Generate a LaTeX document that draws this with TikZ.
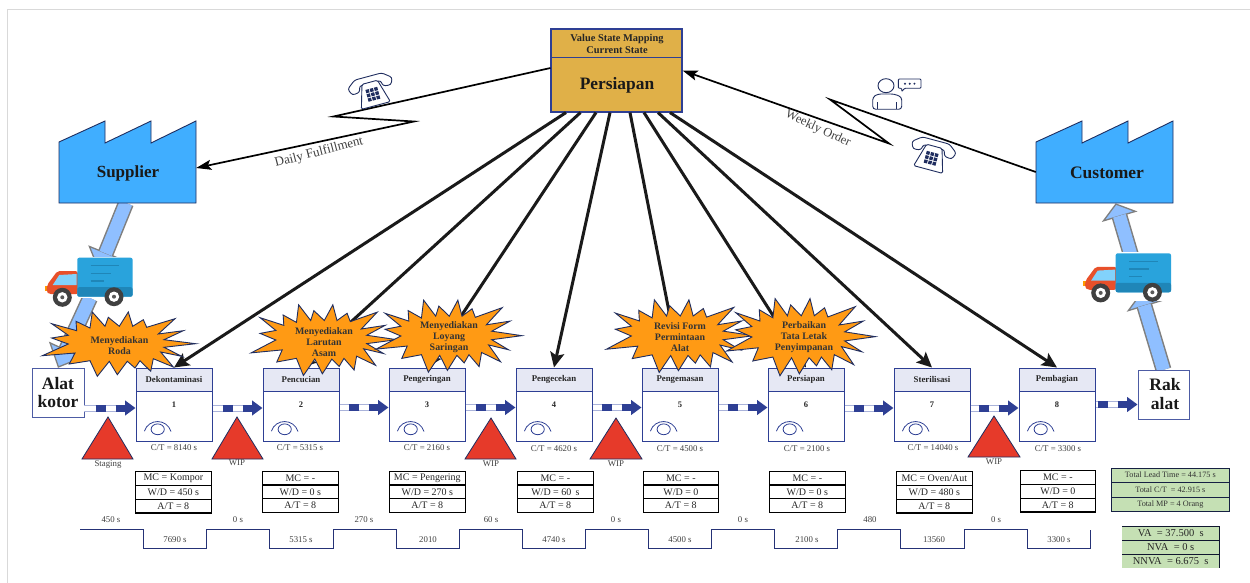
\documentclass[tikz,border=0pt]{standalone}
\usepackage{fontspec}
\setmainfont{Liberation Serif}
\usetikzlibrary{calc,arrows.meta}
\definecolor{navy}{HTML}{2E3F94}
\definecolor{inkd}{HTML}{1F2D5F}
\definecolor{lineblk}{HTML}{1A1A1A}
\definecolor{hdr}{HTML}{E6E8F4}
\definecolor{gold}{HTML}{E0B048}
\definecolor{factory}{HTML}{40AEFF}
\definecolor{fatblue}{HTML}{8FBFFF}
\definecolor{fatgray}{HTML}{7F7F7F}
\definecolor{burstc}{HTML}{FF9A14}
\definecolor{tri}{HTML}{E63A2A}
\definecolor{greenc}{HTML}{C5E0B4}
\definecolor{txtg}{HTML}{404040}
\definecolor{softb}{HTML}{AAB3DA}
\definecolor{truckred}{HTML}{E8502A}
\definecolor{truckwin}{HTML}{82D2FB}
\definecolor{truckbox}{HTML}{29A3DC}
\definecolor{truckdark}{HTML}{1F86B8}
\newcommand{\fs}[1]{\fontsize{#1}{#1}\selectfont}
\tikzset{
  procbox/.style={draw=navy,line width=1pt,fill=white,minimum width=76pt,minimum height=73pt,inner sep=0pt},
  hdrbox/.style={draw=navy,line width=1pt,fill=hdr,minimum width=76pt,minimum height=23pt,inner sep=0pt,font=\fs{8.8}\bfseries,text=black!85},
  numtxt/.style={font=\fs{8.5}\bfseries,text=black!85,inner sep=0pt},
  smalltxt/.style={font=\fs{8.8},text=txtg,inner sep=0pt},
  infobox/.style={draw=black,line width=1.2pt,fill=white,minimum width=75.5pt,minimum height=13.8pt,inner sep=0pt,font=\fs{10},text=black!85},
  greenA/.style={draw=inkd!70!black,line width=.7pt,fill=greenc,minimum width=118pt,minimum height=14.5pt,inner sep=0pt,font=\fs{8.2},text=black!80},
  greenB/.style={fill=greenc,minimum width=97pt,minimum height=14pt,inner sep=0pt,font=\fs{10.5},text=black!85},
  triwip/.style={draw=inkd,line width=.8pt,fill=tri},
  bursts/.style={draw=inkd,line width=.9pt,fill=burstc,line join=miter},
  bursttxt/.style={align=center,font=\fs{9.9}\bfseries,text=black!80,inner sep=0pt},
  factorys/.style={draw=inkd,line width=.9pt,fill=factory,line join=miter},
  bigbox/.style={draw=navy!85,line width=.9pt,fill=white,inner sep=0pt,align=center},
  holder/.style={inner sep=0pt},
  fan/.style={draw=lineblk,line width=3pt,-{Stealth[length=15pt,width=14pt,inset=3pt]}},
  zig/.style={draw=black,line width=1.7pt,-{Stealth[length=15pt,width=10pt,inset=3pt]},line join=miter},
  eyes/.style={draw=navy,line width=.8pt},
  steps/.style={draw=navy!80!black,line width=.9pt},
  pics/truck/.style={code={
    \fill[white] (-33,-1) rectangle (56,40);
    \fill[orange!80!yellow] (-32.5,28) rectangle (-29,33);
    \fill[truckred,rounded corners=2pt] (0.5,13.5) -- (-20,13.5) -- (-30,27) -- (-31,34) -- (-28,36.5) -- (0.5,36.5) -- cycle;
    \fill[truckwin] (-24.6,27.3) -- (-18,17.3) -- (-0.6,16.3) -- (-0.6,27.3) -- cycle;
    \fill[truckbox,rounded corners=2pt] (0,0) rectangle (55.3,39);
    \fill[truckdark,rounded corners=2pt] (0,29.5) rectangle (55.3,39);
    \draw[truckdark,line width=1.3pt] (13.4,8) -- (42,8) (13.4,15.6) -- (33.7,15.6) (13.4,23.3) -- (26.7,23.3);
    \foreach \wx/\wy in {-15/39.6,36.7/39}{
      \fill[black!75] (\wx,\wy) circle (9.5pt);
      \fill[white] (\wx,\wy) circle (5.2pt);
      \fill[black!65] (\wx,\wy) circle (2pt);
    }
  }},
  pics/phone/.style={code={
    \draw[draw=inkd,line width=.9pt,fill=white,rounded corners=2.5pt] (-20,-1) -- (-23,-8) -- (-14,-15) -- (14,-15) -- (23,-8) -- (20,-1) -- (12,-2) -- (11,-8) -- (-11,-8) -- (-12,-2) -- cycle;
    \draw[draw=inkd,line width=.9pt,fill=white,rounded corners=1.5pt] (-8,-9) -- (-15,15) -- (15,15) -- (8,-9) -- cycle;
    \foreach \kx in {-4.4,0,4.4}\foreach \ky in {-1,3.4,7.8}{\fill[inkd] (\kx-1.7,\ky-1.7) rectangle (\kx+1.7,\ky+1.7);}
  }},
  pics/eye/.style={code={
    \draw[eyes] (-13.3,1.8) .. controls (-9,-11) and (9,-11) .. (13.3,2.2);
    \draw[eyes] (0,0) ellipse (6.6pt and 5.4pt);
  }}
}
\newcommand{\procn}[4]{%
  \node[procbox] (box#1) at (#2+38,404.5) {};
  \node[hdrbox] (hd#1) at (#2+38,379.5) {#3};
  \node[numtxt] (no#1) at (#2+38,405) {#4};
  \path (#2+21.7,429.3) pic {eye};
}
\newcommand{\infot}[6]{%
  \node[infobox,anchor=north west] (ia#1) at (#2,#3) {#4};
  \node[infobox,anchor=north west] (ib#1) at (#2,#3+13.8) {#5};
  \node[infobox,anchor=north west] (ic#1) at (#2,#3+27.6) {#6};
}
\newcommand{\pusharrow}[2]{%
  \draw[softb,line width=7pt] (#1) -- ($(#2)!20pt!(#1)$);
  \draw[white,line width=5pt] (#1) -- ($(#2)!20pt!(#1)$);
  \draw[navy,line width=7pt] ($(#2)!40pt!(#1)$) -- ($(#2)!30pt!(#1)$);
  \draw[navy,line width=7pt,-{Triangle[length=10.5pt,width=14.5pt]}] ($(#2)!20pt!(#1)$) -- (#2);
}
\newcommand{\fatarrow}[5]{%
  \draw[fatgray,line width=#5pt+3pt,-{Triangle[length=#3pt,width=#4pt,fill=fatblue,color=fatgray,line width=1.3pt]}] (#1) -- (#2);
  \draw[fatblue,line width=#5pt] (#1) -- ($(#2)!#3pt-1pt!(#1)$);
}
\newcommand{\burst}[5]{%
  \begin{scope}[shift={(#2,#3)},xscale=#4,yscale=#5]
  \path[bursts] (-26.7,-32) -- (-14,-17.7) -- (-10.7,-26.7) -- (0.3,-17.7) -- (9.3,-32) -- (13.7,-17.7) -- (24.3,-24.3) -- (27.7,-16.7) -- (56,-25.3) -- (39.3,-10) -- (64.3,-13.3) -- (45,-4.3) -- (76.7,-0.3) -- (45,3.3) -- (62.7,12.3) -- (41.7,8) -- (54.3,23) -- (34.3,14.7) -- (31.7,27.3) -- (21,16.7) -- (16,24) -- (8.3,17.3) -- (-1.7,30.7) -- (-9.7,17.3) -- (-21.7,32.3) -- (-29,16.7) -- (-49.7,20) -- (-44,9) -- (-76.7,11.7) -- (-50.7,0) -- (-67.3,-6) -- (-50.7,-8.7) -- (-67.3,-20.3) -- (-42.3,-13.3) -- (-43,-22.7) -- (-29,-16) -- cycle;
  \end{scope}
}
\begin{document}
\begin{tikzpicture}[x=1pt,y=-1pt]
\useasboundingbox (0,0) rectangle (1250,583);
\fill[white] (0,0) rectangle (1250,583);
\draw[black!15,line width=1pt] (7,583) -- (7,10) -- (1250,10);

\node[minimum width=137pt,minimum height=82pt,holder] (supplier) at (127.5,162) {};
\node[minimum width=137pt,minimum height=82pt,holder] (customer) at (1104.5,162) {};
\node[minimum width=52pt,minimum height=49pt,holder] (alat) at (58,392.5) {};
\node[minimum width=51pt,minimum height=49pt,holder] (rak) at (1163.5,394.5) {};

\coordinate (supA) at (126,203);
\coordinate (truckA) at (98.5,271);
\coordinate (truckB) at (90,298);
\coordinate (custC) at (1115.7,203.3);
\coordinate (truckC) at (1133,262);
\coordinate (truckD) at (1140.5,293);
\fatarrow{supA}{truckA}{20}{38}{13}
\fatarrow{truckB}{alat.north}{20}{38}{13}
\fatarrow{truckC}{custC}{14}{37}{13}
\fatarrow{rak.north}{truckD}{14}{37}{13}
\fill[white] (1084,290) rectangle (1172,301);
\path (77.3,257.7) pic {truck};
\path (1115.7,253.3) pic {truck};

\draw[factorys] (59,203) -- (59,142) -- (105,121) -- (105,143) -- (151,121) -- (151,143) -- (196,121) -- (196,203) -- cycle;
\draw[factorys] (1036,203) -- (1036,142) -- (1082,121) -- (1082,143) -- (1128,121) -- (1128,143) -- (1173,121) -- (1173,203) -- cycle;
\node[font=\fs{17}\bfseries,text=black!90,inner sep=0pt] (suptxt) at (128,173) {Supplier};
\node[font=\fs{17.5}\bfseries,text=black!90,inner sep=0pt] (custxt) at (1107,173) {Customer};

\node[bigbox,minimum width=52pt,minimum height=49pt] (alatb) at (58,392.5) {};
\node[bigbox,minimum width=51pt,minimum height=49pt] (rakb) at (1163.5,394.5) {};
\node[font=\fs{17.5}\bfseries,text=black!90,inner sep=0pt] (alat1) at (58,384) {Alat};
\node[font=\fs{17.5}\bfseries,text=black!90,inner sep=0pt] (alat2) at (58,402) {kotor};
\node[font=\fs{17.5}\bfseries,text=black!90,inner sep=0pt] (rak1) at (1165,385) {Rak};
\node[font=\fs{17.5}\bfseries,text=black!90,inner sep=0pt] (rak2) at (1165,404) {alat};

\node[draw=navy,line width=1.1pt,fill=gold,minimum width=131pt,minimum height=83pt,inner sep=0pt] (persiapan) at (616.5,70.5) {};
\draw[navy,line width=1.1pt] ([yshift=-29pt]persiapan.north west) -- ([yshift=-29pt]persiapan.north east);
\node[font=\fs{10.4}\bfseries,text=black!85,inner sep=0pt] (vsm1) at (617,39) {Value State Mapping};
\node[font=\fs{10.4}\bfseries,text=black!85,inner sep=0pt] (vsm2) at (617,50) {Current State};
\node[font=\fs{17.4}\bfseries,text=black!90,inner sep=0pt] (pers) at (617,85) {Persiapan};

\procn{1}{136}{Dekontaminasi}{1}
\procn{2}{263}{Pencucian}{2}
\procn{3}{389}{Pengeringan}{3}
\procn{4}{516}{Pengecekan}{4}
\procn{5}{642}{Pengemasan}{5}
\procn{6}{768}{Persiapan}{6}
\procn{7}{894}{Sterilisasi}{7}
\procn{8}{1019}{Pembagian}{8}

\pusharrow{[yshift=-3.5pt]alatb.east |- box1.east}{[yshift=-3.5pt]box1.west}
\pusharrow{[yshift=-3.5pt]box1.east}{[yshift=-3.5pt]box2.west}
\pusharrow{[yshift=-3pt]box2.east}{[yshift=-3pt]box3.west}
\pusharrow{[yshift=-3pt]box3.east}{[yshift=-3pt]box4.west}
\pusharrow{[yshift=-3pt]box4.east}{[yshift=-3pt]box5.west}
\pusharrow{[yshift=-3pt]box5.east}{[yshift=-3pt]box6.west}
\pusharrow{[yshift=-3.5pt]box6.east}{[yshift=-3.5pt]box7.west}
\pusharrow{[yshift=-3.5pt]box7.east}{[yshift=-3.5pt]box8.west}
\pusharrow{box8.east}{rakb.west |- box8.east}

\draw[triwip] (108,417) -- (133,459) -- (82,459) -- cycle;
\draw[triwip] (237,417) -- (263,459) -- (212,459) -- cycle;
\draw[triwip] (491,418) -- (516,459) -- (465,459) -- cycle;
\draw[triwip] (616,418) -- (642,459) -- (590,459) -- cycle;
\draw[triwip] (994,416) -- (1020,457) -- (968,457) -- cycle;
\node[smalltxt] (lbS) at (108,465) {Staging};
\node[smalltxt] (lbW1) at (237,463) {WIP};
\node[smalltxt] (lbW2) at (491,464) {WIP};
\node[smalltxt] (lbW3) at (616,464) {WIP};
\node[smalltxt] (lbW4) at (994,462) {WIP};

\node[smalltxt] (ct1) at (174,448) {C/T = 8140 s};
\node[smalltxt] (ct2) at (300,448) {C/T = 5315 s};
\node[smalltxt] (ct3) at (427,448) {C/T = 2160 s};
\node[smalltxt] (ct4) at (554,449) {C/T = 4620 s};
\node[smalltxt] (ct5) at (680,449) {C/T = 4500 s};
\node[smalltxt] (ct6) at (807,449) {C/T = 2100 s};
\node[smalltxt] (ct7) at (933,448) {C/T = 14040 s};
\node[smalltxt] (ct8) at (1058,449) {C/T = 3300 s};

\infot{1}{135}{471}{MC = Kompor}{W/D = 450 s}{A/T = 8}
\infot{2}{262}{470.5}{MC = -}{W/D = 0 s}{A/T = 8}
\infot{3}{389}{470.5}{MC = Pengering}{W/D = 270 s}{A/T = 8}
\infot{4}{517}{470.5}{MC = -}{W/D = 60 \,s}{A/T = 8}
\infot{5}{642.5}{470.5}{MC = -}{W/D = 0}{A/T = 8}
\infot{6}{769}{470.5}{MC = -}{W/D = 0 s}{A/T = 8}
\infot{7}{896}{471}{MC = Oven/Aut}{W/D = 480 s}{A/T = 8}
\infot{8}{1019.5}{470}{MC = -}{W/D = 0}{A/T = 8}

\draw[steps] (80,529) -- (143,529) -- (143,548) -- (206,548) -- (206,529) -- (269,529) -- (269,548) -- (333,548) -- (333,529) -- (396,529) -- (396,548) -- (459,548) -- (459,529) -- (522,529) -- (522,548) -- (585,548) -- (585,529) -- (648,529) -- (648,548) -- (711,548) -- (711,529) -- (774,529) -- (774,548) -- (837,548) -- (837,529) -- (900,529) -- (900,548) -- (964,548) -- (964,529) -- (1027,529) -- (1027,548) -- (1090,548) -- (1090,530);
\node[smalltxt] (tu1) at (111,520) {450 s};
\node[smalltxt] (tu2) at (238,520) {0 s};
\node[smalltxt] (tu3) at (364,520) {270 s};
\node[smalltxt] (tu4) at (491,520) {60 s};
\node[smalltxt] (tu5) at (616,520) {0 s};
\node[smalltxt] (tu6) at (743,520) {0 s};
\node[smalltxt] (tu7) at (870,520) {480};
\node[smalltxt] (tu8) at (996,520) {0 s};
\node[smalltxt] (td1) at (175,539.5) {7690 s};
\node[smalltxt] (td2) at (301,539.5) {5315 s};
\node[smalltxt] (td3) at (428,539.5) {2010};
\node[smalltxt] (td4) at (554,539.5) {4740 s};
\node[smalltxt] (td5) at (680,539.5) {4500 s};
\node[smalltxt] (td6) at (807,539.5) {2100 s};
\node[smalltxt] (td7) at (934,539.5) {13560};
\node[smalltxt] (td8) at (1059,539.5) {3300 s};

\node[greenA,anchor=north west] (ga) at (1111,467.5) {Total Lead Time = 44.175 s};
\node[greenA,anchor=north west] (gb) at (1111,482) {Total C/T \ = 42.915 s};
\node[greenA,anchor=north west] (gc) at (1111,496.5) {Total MP = 4 Orang};
\node[greenB,anchor=north west] (gd) at (1122,526) {VA \ = 37.500 \ s};
\node[greenB,anchor=north west] (ge) at (1122,540) {NVA \ = 0 s};
\node[greenB,anchor=north west] (gf) at (1122,554) {NNVA \ = 6.675 \ s};
\draw[inkd!50!black,line width=.9pt] (gd.north west) -- (gd.north east);
\draw[inkd!50!black,line width=.9pt] (gd.north east) -- (gf.south east);
\draw[inkd!50!black,line width=.9pt] (gd.south west) -- (gd.south east);
\draw[inkd!50!black,line width=.9pt] (ge.south west) -- (ge.south east);

\coordinate (z1) at (414,121.5);
\coordinate (z2) at (333.5,116.5);
\coordinate (k1) at (889,143.5);
\coordinate (k2) at (830,99.5);
\draw[zig] ([yshift=2.5pt]persiapan.west) -- (z2) -- (z1) -- ([yshift=-6pt]supplier.east);
\draw[zig] ([yshift=-10pt]customer.west) -- (k2) -- (k1) -- (persiapan.east);
\draw[fan] ([xshift=-50.5pt]persiapan.south) -- (box1.north);
\draw[fan] ([xshift=-36pt]persiapan.south) -- (box2.north);
\draw[fan] ([xshift=-20.5pt]persiapan.south) -- (box3.north);
\draw[fan] ([xshift=-6.5pt]persiapan.south) -- (box4.north);
\draw[fan] ([xshift=13.5pt]persiapan.south) -- (box5.north);
\draw[fan] ([xshift=27.5pt]persiapan.south) -- (box6.north);
\draw[fan] ([xshift=41.5pt]persiapan.south) -- (box7.north);
\draw[fan] ([xshift=53.5pt]persiapan.south) -- (box8.north);

\node[rotate=14.5,font=\fs{13},text=txtg,inner sep=0pt] (daily) at (319,152.5) {Daily Fulfillment};
\node[rotate=-25,font=\fs{12.5},text=txtg,inner sep=0pt] (weekly) at (818,129) {Weekly Order};

\path (372,91) pic[rotate=15] {phone};
\path (932,155) pic[rotate=-15] {phone};
\draw[inkd,line width=.9pt] (886,85.7) ellipse (8pt and 7pt);
\draw[inkd,line width=.9pt,rounded corners=3pt] (872.7,109.3) -- (872.7,97) -- (878,94) -- (894,94) -- (901.7,97) -- (901.7,109.3) -- cycle;
\draw[inkd,line width=.8pt] (877.5,102.5) -- (877.5,109.3) (896.7,102.5) -- (896.7,109.3);
\draw[inkd,line width=.9pt,rounded corners=1pt,fill=white] (898.3,79) -- (921,79) -- (921,88.3) -- (904.5,88.3) -- (901.7,91.7) -- (901.7,88.3) -- (898.3,88.3) -- cycle;
\fill[inkd] (905,83.7) circle (1.1pt) (909.7,83.7) circle (1.1pt) (914.4,83.7) circle (1.1pt);

\burst{b1}{119}{344}{1}{1}
\burst{b2}{324}{340}{.95}{1.1}
\burst{b3}{449}{336}{.95}{1.12}
\burst{b5}{680}{336}{.96}{1.13}
\burst{b6}{801}{337}{.97}{1.2}
\node[bursttxt] (bt1) at (119.5,345.5) {Menyediakan\\[1.2pt]Roda};
\node[bursttxt] (bt2) at (324,342) {Menyediakan\\[1.2pt]Larutan\\[1.2pt]Asam};
\node[bursttxt] (bt3) at (449,337) {Menyediakan\\[1.2pt]Loyang\\[1.2pt]Saringan};
\node[bursttxt] (bt5) at (680,337) {Revisi Form\\[1.2pt]Permintaan\\[1.2pt]Alat};
\node[bursttxt] (bt6) at (804,337) {Perbaikan\\[1.2pt]Tata Letak\\[1.2pt]Penyimpanan};
\end{tikzpicture}
\end{document}
